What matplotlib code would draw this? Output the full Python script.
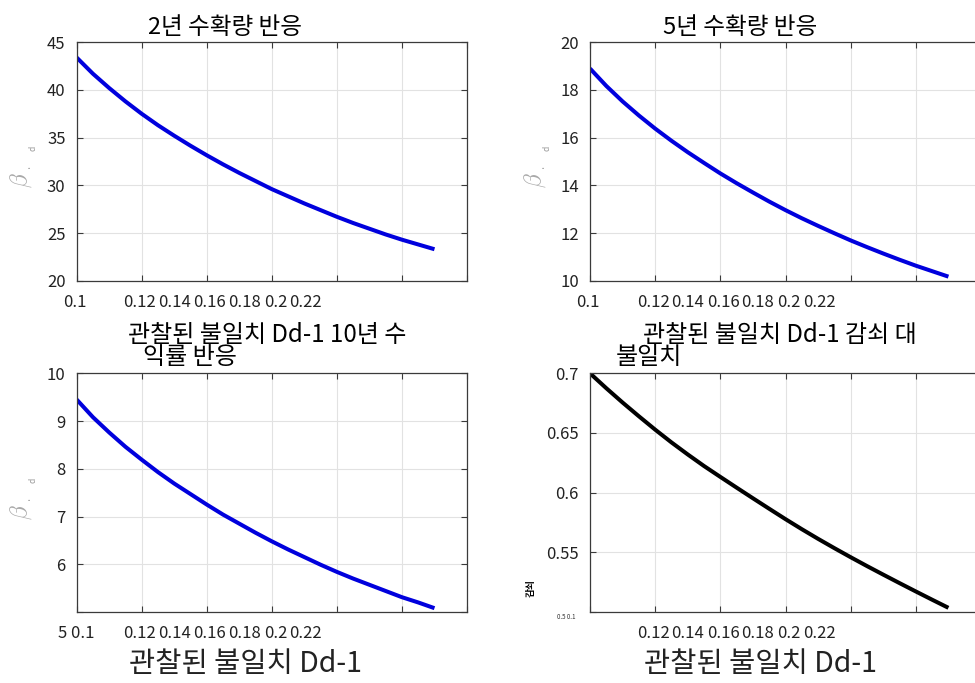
import numpy as np
import matplotlib
matplotlib.use("Agg")
import matplotlib.pyplot as plt

plt.rcParams['font.family'] = ['Noto Sans CJK KR', 'DejaVu Sans']
plt.rcParams['mathtext.fontset'] = 'cm'
plt.rcParams['axes.unicode_minus'] = False

# ---- data ----
dd = [0.100, 0.105, 0.110, 0.115, 0.120, 0.125, 0.130, 0.135, 0.140, 0.145, 0.150, 0.155,
      0.160, 0.165, 0.170, 0.175, 0.180, 0.185, 0.190, 0.195, 0.200, 0.205, 0.210]
beta_2y = [43.4, 41.7, 40.2, 38.8, 37.5, 36.3, 35.2, 34.15, 33.15, 32.2, 31.3, 30.45,
           29.6, 28.85, 28.1, 27.4, 26.7, 26.05, 25.45, 24.85, 24.3, 23.8, 23.3]
beta_5y = [18.90, 18.17, 17.52, 16.93, 16.38, 15.87, 15.39, 14.94, 14.50, 14.09, 13.70, 13.32,
           12.96, 12.62, 12.30, 11.99, 11.69, 11.41, 11.14, 10.88, 10.63, 10.40, 10.17]
beta_10y = [9.45, 9.08, 8.76, 8.46, 8.19, 7.93, 7.69, 7.47, 7.25, 7.04, 6.85, 6.66,
            6.48, 6.31, 6.15, 5.99, 5.84, 5.70, 5.57, 5.44, 5.31, 5.20, 5.08]
decay = [0.7000, 0.6875, 0.6755, 0.6640, 0.6528, 0.6421, 0.6320, 0.6223, 0.6132, 0.6042,
         0.5953, 0.5865, 0.5778, 0.5694, 0.5613, 0.5535, 0.5459, 0.5385, 0.5313, 0.5242,
         0.5172, 0.5103, 0.5035]

xgrid = [0.10, 0.12, 0.14, 0.16, 0.18, 0.20, 0.22]
xtick_labels = ['0.1', '0.12', '0.14', '0.16', '0.18', '0.2', '0.22']

titles = ['2년 수확량 반응', '5년 수확량 반응']
xlabel = '관찰된 불일치 Dd-1'

W, H = 975, 683
fig = plt.figure(figsize=(W / 100, H / 100), dpi=100)


def rect(l, t, r, b):
    return [l / W, 1 - b / H, (r - l) / W, (b - t) / H]


def style(ax, ylim, yticks, yticklabels):
    ax.set_xlim(0.1, 0.22)
    ax.set_ylim(*ylim)
    ax.set_xticks(xgrid)
    ax.set_xticklabels([''] * len(xgrid))
    ax.set_yticks(yticks)
    ax.set_yticklabels(yticklabels)
    ax.grid(True, color='#e2e2e2', lw=0.8)
    ax.set_axisbelow(True)
    ax.tick_params(direction='in', top=True, right=True, length=4,
                   color='#3a3a3a', labelsize=12, labelcolor='#222222', pad=8)
    for s in ax.spines.values():
        s.set_color('#3a3a3a')
        s.set_linewidth(0.9)


# the x tick labels of the reference are squeezed together, not under the grid lines
xlab_offsets = [-2, 63, 98, 133, 168, 199, 229]


def xtick_text(left_px, bottom_px, skip_first=False):
    for i, (lab, o) in enumerate(zip(xtick_labels, xlab_offsets)):
        if skip_first and i == 0:
            continue
        fig.text((left_px + o) / W, 1 - (bottom_px + 22) / H, lab,
                 ha='center', va='center', fontsize=12, color='#222222')


def beta_label(x, y):
    fig.text(x / W, 1 - y / H, r'$\beta$', rotation=90,
             ha='center', va='center', fontsize=17, color='#a8a8a8')
    fig.text((x + 8) / W, 1 - (y - 15) / H, '·', rotation=90,
             ha='center', va='center', fontsize=7, color='#999999')
    fig.text((x + 12) / W, 1 - (y - 32) / H, 'd', rotation=90,
             ha='center', va='center', fontsize=6, color='#999999')


blue = '#0000dd'

# top left
ax1 = fig.add_axes(rect(76.7, 42.3, 467, 280.7))
ax1.plot(dd, beta_2y, color=blue, lw=2.9, solid_capstyle='butt')
style(ax1, (20, 45), [20, 25, 30, 35, 40, 45], ['20', '25', '30', '35', '40', '45'])
xtick_text(76.7, 280.7)
beta_label(21, 180)
fig.text(225 / W, 1 - 28 / H, titles[0], ha='center', va='center', fontsize=17)

# top right
ax2 = fig.add_axes(rect(590, 42.3, 981, 280.7))
ax2.plot(dd, beta_5y, color=blue, lw=2.9, solid_capstyle='butt')
style(ax2, (10, 20), [10, 12, 14, 16, 18, 20], ['10', '12', '14', '16', '18', '20'])
xtick_text(590, 280.7)
beta_label(535, 180)
fig.text(740 / W, 1 - 28 / H, titles[1], ha='center', va='center', fontsize=17)

# bottom left
ax3 = fig.add_axes(rect(76.7, 373.3, 467, 612))
ax3.plot(dd, beta_10y, color=blue, lw=2.9, solid_capstyle='butt')
style(ax3, (5, 10), [5, 6, 7, 8, 9, 10], ['', '6', '7', '8', '9', '10'])
xtick_text(76.7, 612, skip_first=True)
fig.text(58 / W, 1 - 634 / H, '5 0.1', ha='left', va='center', fontsize=12, color='#222222')
beta_label(21, 512)

# bottom right
ax4 = fig.add_axes(rect(590, 373.3, 981, 612))
ax4.plot(dd, decay, color='black', lw=2.9, solid_capstyle='butt')
style(ax4, (0.5, 0.7), [0.5, 0.55, 0.6, 0.65, 0.7], ['', '0.55', '0.6', '0.65', '0.7'])
xtick_text(590, 612, skip_first=True)
fig.text(557 / W, 1 - 617 / H, '0.5 0.1', ha='left', va='center', fontsize=4.5, color='#333333')
fig.text(531 / W, 1 - 588 / H, '감쇠', rotation=90, ha='center', va='center',
         fontsize=7, fontweight='bold')

# overlapping middle texts (xlabel of upper row + wrapped titles of lower row)
fig.text(128 / W, 1 - 335 / H, xlabel + ' 10년 수', ha='left', va='center', fontsize=17.3)
fig.text(143 / W, 1 - 357 / H, '익률 반응', ha='left', va='center', fontsize=17.3)
fig.text(643 / W, 1 - 335 / H, xlabel + ' 감쇠 대', ha='left', va='center', fontsize=17.3)
fig.text(616 / W, 1 - 357 / H, '불일치', ha='left', va='center', fontsize=17.3)

# bottom xlabels
fig.text(246 / W, 1 - 664 / H, xlabel, ha='center', va='center', fontsize=20.5, color='#222222')
fig.text(761 / W, 1 - 664 / H, xlabel, ha='center', va='center', fontsize=20.5, color='#222222')

fig.savefig('out.png', dpi=100)
